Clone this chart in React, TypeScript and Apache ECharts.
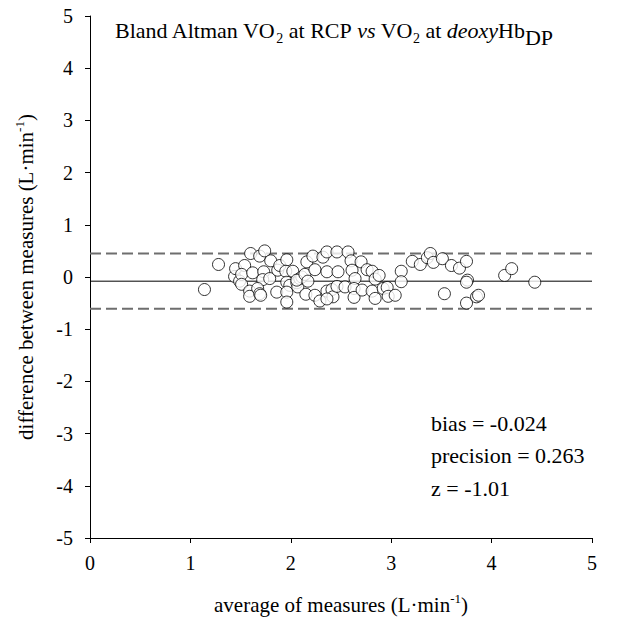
import React, { useEffect, useRef } from "react";
import * as echarts from "echarts";

// x: average of measures (L·min-1), y: difference between measures (L·min-1)
const xAvg = [
  1.14, 1.28, 1.44, 1.45, 1.49, 1.54, 1.51, 1.51, 1.59, 1.59, 1.62, 1.6, 1.69, 1.74, 1.73, 1.72, 1.79, 1.8,
  1.67, 1.69, 1.7, 1.86, 1.87, 1.89, 1.96, 1.95, 1.96, 1.99, 1.96, 1.96, 2.02, 2.06, 2.07, 2.09, 2.11, 2.06,
  2.14, 2.16, 2.22, 2.24, 2.17, 2.15, 2.24, 2.29, 2.32, 2.36, 2.36, 2.36, 2.41, 2.42, 2.36, 2.46, 2.47, 2.46,
  2.54, 2.57, 2.6, 2.61, 2.64, 2.63, 2.63, 2.7, 2.71, 2.76, 2.81, 2.84, 2.81, 2.84, 2.88, 2.92, 2.96, 2.97,
  3.04, 3.1, 3.1, 3.21, 3.29, 3.36, 3.39, 3.42, 3.51, 3.53, 3.6, 3.68, 3.75, 3.76, 3.75, 3.75, 3.85, 3.87,
  4.13, 4.2, 4.43,
];
const yDiff = [
  -0.24, 0.24, 0.01, 0.16, -0.08, 0.22, 0.05, -0.14, -0.27, -0.37, 0.08, 0.45, 0.4, 0.5, 0.1, -0.05, -0.03, 0.31,
  -0.22, -0.32, -0.35, -0.29, 0.13, 0.22, 0.33, 0.11, -0.1, -0.16, -0.29, -0.48, 0.11, -0.11, -0.19, -0.03, 0.0, -0.06,
  0.05, 0.29, 0.4, 0.14, -0.08, -0.33, -0.35, -0.46, 0.38, 0.48, 0.1, -0.27, -0.24, -0.38, -0.42, 0.48, 0.1, -0.18,
  -0.19, 0.48, 0.31, 0.13, -0.03, -0.22, -0.39, 0.29, -0.25, 0.14, 0.11, -0.04, -0.27, -0.41, 0.03, -0.22, -0.2, -0.37,
  -0.35, 0.11, -0.09, 0.3, 0.24, 0.37, 0.45, 0.28, 0.35, -0.32, 0.22, 0.17, 0.3, -0.06, -0.1, -0.5, -0.38, -0.35,
  0.03, 0.16, -0.1,
];

const meanDiff = -0.08;
const upperLimit = 0.45;
const lowerLimit = -0.61;
const xRange = [0, 5];
const yRange = [-5, 5];

const statLines = ["bias = -0.024", "precision = 0.263", "z = -1.01"];

const FONT = "Liberation Serif";

export default function App() {
  const ref = useRef<HTMLDivElement>(null);
  useEffect(() => {
    if (!ref.current) return;
    const chart = echarts.init(ref.current, null, { renderer: "svg" });
    const points = xAvg.map((x, i) => [x, yDiff[i]]);
    const hline = (v: number) => [
      [xRange[0], v],
      [xRange[1], v],
    ];
    const baseText = { fontFamily: FONT, fontSize: 21, color: "#000" };
    const titleText = { fontFamily: FONT, fontSize: 22, color: "#000" };
    const supStyle = { fontFamily: FONT, fontSize: 13, color: "#000", padding: [0, 0, 12, 0] };
    chart.setOption({
      animation: false,
      backgroundColor: "#fff",
      textStyle: { fontFamily: FONT },
      grid: { left: 90, right: 34, top: 16, bottom: 93, containLabel: false },
      xAxis: {
        type: "value",
        min: xRange[0],
        max: xRange[1],
        interval: 1,
        axisLine: { onZero: false, lineStyle: { color: "#000", width: 1 } },
        axisTick: { inside: false, length: 5, lineStyle: { color: "#000" } },
        splitLine: { show: false },
        axisLabel: { fontFamily: FONT, fontSize: 20, color: "#000", margin: 15 },
        name: "{n|average of measures (L·min}{s|-1}{n|)}",
        nameLocation: "middle",
        nameGap: 54,
        nameTextStyle: {
          ...baseText,
          rich: { n: { ...baseText }, s: supStyle },
        },
      },
      yAxis: {
        type: "value",
        min: yRange[0],
        max: yRange[1],
        interval: 1,
        axisLine: { onZero: false, lineStyle: { color: "#000", width: 1 } },
        axisTick: { inside: false, length: 5, lineStyle: { color: "#000" } },
        splitLine: { show: false },
        axisLabel: { fontFamily: FONT, fontSize: 20, color: "#000", margin: 17 },
        name: "{n|difference between measures (L·min}{s|-1}{n|)}",
        nameLocation: "middle",
        nameRotate: 90,
        nameGap: 52,
        nameTextStyle: {
          ...baseText,
          rich: { n: { ...baseText }, s: supStyle },
        },
      },
      series: [
        {
          type: "line",
          data: hline(upperLimit),
          symbol: "none",
          lineStyle: { color: "#6e6e6e", width: 2, type: [11, 5] },
          silent: true,
          z: 1,
        },
        {
          type: "line",
          data: hline(lowerLimit),
          symbol: "none",
          lineStyle: { color: "#6e6e6e", width: 2, type: [11, 5] },
          silent: true,
          z: 1,
        },
        {
          type: "line",
          data: hline(meanDiff),
          symbol: "none",
          lineStyle: { color: "#000", width: 1 },
          silent: true,
          z: 1,
        },
        {
          type: "scatter",
          data: points,
          symbol: "circle",
          symbolSize: 12,
          itemStyle: { color: "#fff", borderColor: "#000", borderWidth: 1 },
          z: 3,
        },
      ],
      graphic: [
        {
          type: "text",
          left: 115,
          top: 19,
          style: {
            text:
              "{n|Bland Altman VO}{sub|2}{n| at RCP }{i|vs}{n| VO}{sub|2}{n| at }{i|deoxy}{n|Hb}{dp|DP}",
            rich: {
              n: { ...titleText },
              i: { ...titleText, fontStyle: "italic" },
              sub: { fontFamily: FONT, fontSize: 14, color: "#000", padding: [16, 0, 0, 0] },
              dp: { ...titleText, padding: [14, 0, 0, 0] },
            },
          },
        },
        ...statLines.map((t, i) => ({
          type: "text",
          left: 431,
          top: 412 + i * 32.5,
          style: { text: t, fontFamily: FONT, fontSize: 22, fill: "#000" },
        })),
      ],
    });
    return () => chart.dispose();
  }, []);
  return (
    <div
      ref={ref}
      style={{ position: "absolute", left: 0, top: 0, width: 626, height: 631 }}
    />
  );
}
